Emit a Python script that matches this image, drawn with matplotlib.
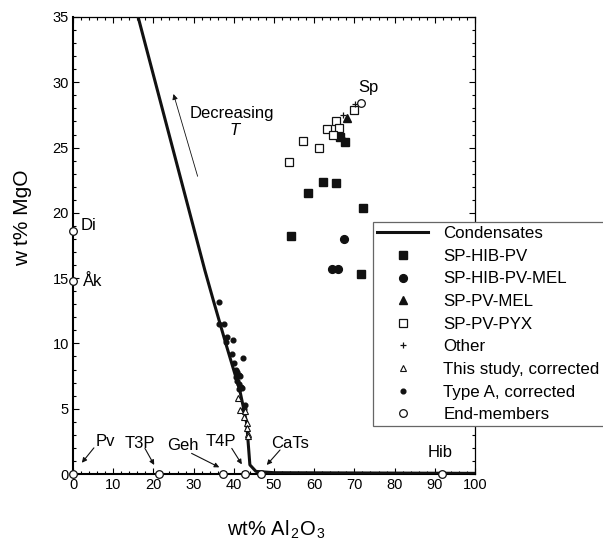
import matplotlib
matplotlib.use("Agg")
import matplotlib.pyplot as plt
from matplotlib.ticker import MultipleLocator

plt.rcParams['font.family'] = ['Liberation Sans', 'DejaVu Sans']
plt.rcParams['mathtext.fontset'] = 'custom'
plt.rcParams['mathtext.rm'] = 'Liberation Sans'
plt.rcParams['mathtext.it'] = 'Liberation Sans:italic'

# ---- data ----
cond_x = [16.2, 32.8, 35.0, 38.0, 41.5, 43.2, 44.0, 45.5, 50.0, 100.0]
cond_y = [35.0, 15.6, 13.2, 10.0, 6.4, 3.9, 0.7, 0.2, 0.1, 0.05]

hibpv_x = [67.7, 62.1, 65.3, 58.5, 72.2, 54.2, 71.6, 66.4]
hibpv_y = [25.4, 22.4, 22.3, 21.5, 20.4, 18.2, 15.3, 25.8]

hibpvmel_x = [67.4, 64.5, 66.0]
hibpvmel_y = [18.0, 15.7, 15.7]

pvmel_x = [68.1, 66.6]
pvmel_y = [27.3, 26.0]

pvpyx_x = [69.9, 65.4, 63.1, 66.1, 64.8, 57.1, 61.3, 53.7]
pvpyx_y = [27.9, 27.0, 26.4, 26.5, 26.0, 25.5, 25.0, 23.9]

other_x = [70.1, 67.2]
other_y = [28.3, 27.5]

study_x = [41.1, 41.5, 42.8, 42.5, 43.2, 43.2, 43.6, 43.6]
study_y = [5.8, 4.9, 4.8, 4.4, 3.9, 3.5, 3.1, 2.9]

typea_x = [36.2, 36.4, 37.6, 38.2, 39.9, 38.0, 39.6, 42.4, 40.1, 40.5, 40.8,
           41.2, 40.6, 41.5, 40.9, 41.3, 41.8, 41.4, 42.0, 42.8, 42.5]
typea_y = [13.2, 11.5, 11.5, 10.5, 10.3, 10.1, 9.2, 8.9, 8.5, 8.0, 7.8,
           7.6, 7.4, 7.5, 7.1, 6.9, 6.7, 6.5, 6.6, 5.3, 5.0]

end_names = ['Di', 'Åk', 'Pv', 'T3P', 'Geh', 'T4P', 'CaTs', 'Hib', 'Sp']
end_x = [0.0, 0.0, 0.0, 21.3, 37.2, 42.9, 46.8, 91.7, 71.6]
end_y = [18.6, 14.8, 0.0, 0.0, 0.0, 0.0, 0.0, 0.0, 28.4]

# ---- figure ----
fig = plt.figure(figsize=(6.03, 5.42), dpi=100)
ax = fig.add_axes([73/603, 1-474/542, (475-73)/603, (474-17)/542])
ax.set_xlim(0, 100)
ax.set_ylim(0, 35)

ax.plot(cond_x, cond_y, color='#111111', lw=2.2, label='Condensates', zorder=3)
ax.plot(hibpv_x, hibpv_y, ls='none', marker='s', ms=5.6, color='#111111', label='SP-HIB-PV', zorder=4)
ax.plot(hibpvmel_x, hibpvmel_y, ls='none', marker='o', ms=5.6, color='#111111', label='SP-HIB-PV-MEL', zorder=4)
ax.plot(pvmel_x, pvmel_y, ls='none', marker='^', ms=5.6, color='#111111', label='SP-PV-MEL', zorder=4)
ax.plot(pvpyx_x, pvpyx_y, ls='none', marker='s', ms=6, mfc='white', mec='#111111', mew=0.9, label='SP-PV-PYX', zorder=4)
ax.plot(other_x, other_y, ls='none', marker='+', ms=4, color='#111111', mew=0.9, label='Other', zorder=5)
ax.plot(study_x, study_y, ls='none', marker='^', ms=5, mfc='white', mec='#111111', mew=0.8, label='This study, corrected', zorder=5)
ax.plot(typea_x, typea_y, ls='none', marker='o', ms=3.4, color='#111111', label='Type A, corrected', zorder=4)
ax.plot(end_x, end_y, ls='none', marker='o', ms=5.5, mfc='white', mec='#111111', mew=0.9,
        label='End-members', zorder=6, clip_on=False)

fs = 12
# end-member labels
ax.text(3.8, 19.0, 'Di', fontsize=fs, ha='center', va='center')
ax.text(4.8, 14.75, 'Åk', fontsize=fs, ha='center', va='center')
ax.text(73.4, 29.6, 'Sp', fontsize=fs, ha='center', va='center')
ax.text(91.4, 1.65, 'Hib', fontsize=fs, ha='center', va='center')
ax.text(8.0, 2.5, 'Pv', fontsize=fs, ha='center', va='center')
ax.text(16.7, 2.3, 'T3P', fontsize=fs, ha='center', va='center')
ax.text(27.4, 2.2, 'Geh', fontsize=fs, ha='center', va='center')
ax.text(36.8, 2.5, 'T4P', fontsize=fs, ha='center', va='center')
ax.text(49.4, 2.35, 'CaTs', fontsize=fs, ha='left', va='center')

arr = dict(arrowstyle='-|>', color='#111111', lw=0.8, mutation_scale=7, shrinkA=0, shrinkB=0)
ax.annotate('', xy=(2.2, 0.86), xytext=(5.2, 2.0), arrowprops=arr)
ax.annotate('', xy=(20.2, 0.69), xytext=(17.9, 1.96), arrowprops=arr)
ax.annotate('', xy=(36.4, 0.51), xytext=(29.5, 1.58), arrowprops=arr)
ax.annotate('', xy=(42.0, 0.74), xytext=(39.5, 1.96), arrowprops=arr)
ax.annotate('', xy=(48.2, 0.69), xytext=(51.5, 1.84), arrowprops=arr)
ax.annotate('', xy=(25.0, 29.1), xytext=(31.0, 22.8),
            arrowprops=dict(arrowstyle='-|>', color='#111111', lw=0.6, mutation_scale=8, shrinkA=0, shrinkB=0))
ax.text(39.5, 27.6, 'Decreasing', fontsize=fs, ha='center', va='center')
ax.text(40.3, 26.3, 'T', fontsize=fs, ha='center', va='center', style='italic')

ax.xaxis.set_major_locator(MultipleLocator(10))
ax.xaxis.set_minor_locator(MultipleLocator(2))
ax.yaxis.set_major_locator(MultipleLocator(5))
ax.yaxis.set_minor_locator(MultipleLocator(1))
ax.tick_params(which='both', direction='in', top=True, right=True, labelsize=10.5, width=0.8)
ax.tick_params(which='major', length=4, pad=3)
ax.tick_params(which='minor', length=2.5)
for s in ['left', 'bottom']:
    ax.spines[s].set_linewidth(1.5)
for s in ['top', 'right']:
    ax.spines[s].set_linewidth(0.9)

fig.text(276.5/603, 1-530/542, 'wt% Al$_{\\,2}$O$_{\\,3}$', fontsize=14.5, ha='center', va='center')
fig.text(23/603, 1-217.5/542, 'w t% MgO', fontsize=15, ha='center', va='center', rotation=90)

leg = ax.legend(loc='upper left', bbox_to_anchor=(373/603, 1-222/542), bbox_transform=fig.transFigure,
                fontsize=12.2, frameon=True, fancybox=False, edgecolor='#666666', framealpha=1,
                handlelength=3.0, handletextpad=0.9, labelspacing=0.45, borderpad=0.25,
                borderaxespad=0, numpoints=1)
leg.get_frame().set_linewidth(0.9)
leg.set_clip_on(False)

fig.savefig('out.png', dpi=100)
